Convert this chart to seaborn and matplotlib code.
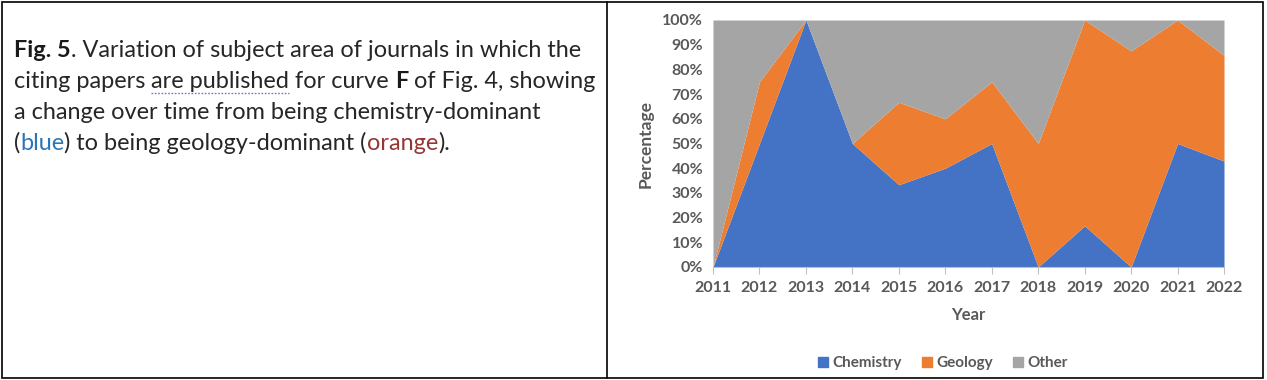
import matplotlib
matplotlib.use("Agg")
import matplotlib.pyplot as plt
import matplotlib.patches as mpatches
from matplotlib.lines import Line2D
from matplotlib.ticker import FuncFormatter
import seaborn as sns

# ---------------- data ----------------
years = [2011, 2012, 2013, 2014, 2015, 2016, 2017, 2018, 2019, 2020, 2021, 2022]
chemistry = [0, 50, 100, 50, 33.3, 40, 50, 0, 16.7, 0, 50, 42.9]
geology = [0, 25, 0, 0, 33.4, 20, 25, 50, 83.3, 87.5, 50, 42.8]
other = [100, 25, 0, 50, 33.3, 40, 25, 50, 0, 12.5, 0, 14.3]
series_names = ["Chemistry", "Geology", "Other"]
series_colors = ["#4472C4", "#ED7D31", "#A5A5A5"]
y_ticks = [0, 10, 20, 30, 40, 50, 60, 70, 80, 90, 100]

caption_lines = [
    [("Fig. 5", "bold", "#1a1a1a", False),
     (". Variation of subject area of journals in which the", "normal", "#262626", False)],
    [("citing papers ", "normal", "#262626", False),
     ("are published", "normal", "#262626", True),
     (" for curve ", "normal", "#262626", False),
     ("F", "bold", "#1a1a1a", False),
     (" of Fig. 4, showing", "normal", "#262626", False)],
    [("a change over time from being chemistry-dominant", "normal", "#262626", False)],
    [("(", "normal", "#262626", False),
     ("blue", "normal", "#2E75B6", False),
     (") to being geology-dominant (", "normal", "#262626", False),
     ("orange", "normal", "#943634", False),
     (").", "normal", "#262626", False)],
]

# ---------------- figure ----------------
sns.set_theme(style="white")
plt.rcParams["font.family"] = ["Lato", "DejaVu Sans"]

W, H = 1267, 380
fig = plt.figure(figsize=(W / 100, H / 100), dpi=100)
fig.patch.set_facecolor("white")

def fx(px):
    return px / W

def fy(py):
    return 1 - py / H

# table borders
fig.add_artist(mpatches.Rectangle((fx(2), fy(378)), fx(1261), 376 / H,
                                  transform=fig.transFigure, fill=False,
                                  edgecolor="black", linewidth=1.2))
fig.add_artist(Line2D([fx(607), fx(607)], [fy(2), fy(378)],
                      transform=fig.transFigure, color="black", linewidth=1.2))

# ---------------- chart ----------------
ax = fig.add_axes([fx(713), fy(267), fx(1224) - fx(713), (267 - 20) / H])
ax.stackplot(years, chemistry, geology, other, colors=series_colors,
             labels=series_names, linewidth=0)
ax.set_xlim(years[0], years[-1])
ax.set_ylim(0, 100)
ax.set_xticks(years)
ax.set_yticks(y_ticks)
ax.yaxis.set_major_formatter(FuncFormatter(lambda v, p: f"{int(v)}%"))
tick_color = "#595959"
for lab in ax.get_xticklabels() + ax.get_yticklabels():
    lab.set_fontweight("bold")
    lab.set_color(tick_color)
    lab.set_fontsize(11.5)
ax.tick_params(axis="x", which="major", direction="out", length=5, width=0.8,
               color="#BFBFBF", pad=5, bottom=True)
ax.tick_params(axis="y", length=0, pad=7)
for s in ["left", "right", "top"]:
    ax.spines[s].set_visible(False)
ax.spines["bottom"].set_color("#BFBFBF")
ax.spines["bottom"].set_linewidth(0.8)
ax.set_xlabel("Year", fontsize=12, fontweight="bold", color=tick_color, labelpad=9)
ax.set_ylabel("Percentage", fontsize=12.5, fontweight="bold", color=tick_color, labelpad=6)

handles = [mpatches.Patch(color=c) for c in series_colors]
fig.legend(handles, series_names, loc="center", bbox_to_anchor=(fx(943), fy(363)),
           ncol=3, frameon=False, handlelength=0.65, handleheight=0.65,
           handletextpad=0.3, columnspacing=1.3,
           prop={"weight": "bold", "size": 11}, labelcolor=tick_color)

# ---------------- caption ----------------
renderer = fig.canvas.get_renderer()
fsize = 16.9

def run_width(s, weight):
    t1 = fig.text(0, 0, "|" + s + "|", fontsize=fsize, fontweight=weight)
    t2 = fig.text(0, 0, "||", fontsize=fsize, fontweight=weight)
    w = t1.get_window_extent(renderer).width - t2.get_window_extent(renderer).width
    t1.remove()
    t2.remove()
    return w

baselines = [57, 88, 119, 150]
for line, base in zip(caption_lines, baselines):
    x = 14.0
    for text, weight, color, underline in line:
        fig.text(fx(x), fy(base), text, fontsize=fsize, fontweight=weight,
                 color=color, ha="left", va="baseline")
        w = run_width(text, weight)
        if underline:
            fig.add_artist(Line2D([fx(x), fx(x + w)], [fy(base + 5), fy(base + 5)],
                                  transform=fig.transFigure, color="#7F6FC0",
                                  linewidth=1.0, linestyle=(0, (1.2, 1.2))))
        x += w

fig.savefig("out.png", dpi=100, facecolor="white")
